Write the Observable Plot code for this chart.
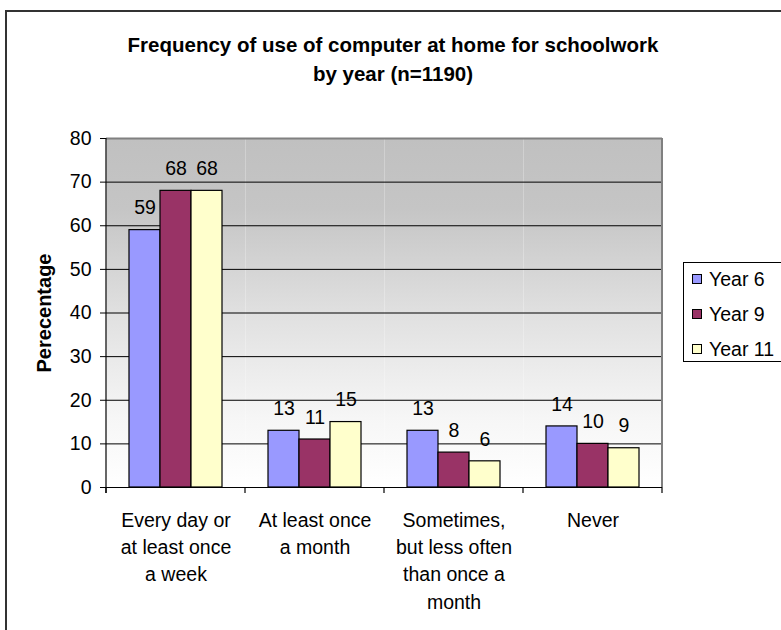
<!DOCTYPE html>
<html>
<head>
<meta charset="utf-8">
<script src="https://cdn.jsdelivr.net/npm/d3@7"></script>
<script src="https://cdn.jsdelivr.net/npm/@observablehq/plot@0.6"></script>
<style>
  html, body { margin: 0; padding: 0; background: #fff; }
  body { font-family: "Liberation Sans", Arial, sans-serif; color: #000; }
  #wrap { position: relative; width: 781px; height: 630px; overflow: hidden; }
  #border { position: absolute; left: 5px; top: 10px; width: 820px; height: 700px; border: 2px solid #333; box-sizing: border-box; }
  #title { position: absolute; left: 0; top: 30px; width: 786px; text-align: center; font-weight: bold; font-size: 20.5px; line-height: 29px; }
  #chart { position: absolute; left: 0; top: 0; }
  #legend { position: absolute; left: 683px; top: 262px; width: 130px; height: 100px; border: 1px solid #000; box-sizing: border-box; background: #fff; }
  .item { position: absolute; left: 0; height: 22px; font-size: 19.5px; line-height: 22px; white-space: nowrap; }
  .sw { position: absolute; left: 8px; top: 6px; width: 8px; height: 8px; border: 1px solid #000; }
  .lbl { position: absolute; left: 25px; top: 0; }
  g[aria-label="y-axis label"] text { font-weight: bold; font-size: 20px; }
</style>
</head>
<body>
<svg width="0" height="0" style="position:absolute">
  <defs>
    <linearGradient id="bg" x1="0" y1="0" x2="0" y2="1">
      <stop offset="0" stop-color="#c0c0c0"></stop>
      <stop offset="0.2" stop-color="#c5c5c5"></stop>
      <stop offset="0.5" stop-color="#e0e0e0"></stop>
      <stop offset="0.8" stop-color="#f6f6f6"></stop>
      <stop offset="1" stop-color="#ffffff"></stop>
    </linearGradient>
  </defs>
</svg>
<div id="wrap">
  <div id="border"></div>
  <div id="title">Frequency of use of computer at home for schoolwork<br>by year (n=1190)</div>
  <div id="chart"></div>
  <div id="legend"></div>
</div>
<script>
const categories = [
  "Every day or\nat least once\na week",
  "At least once\na month",
  "Sometimes,\nbut less often\nthan once a\nmonth",
  "Never"
];
const years = ["Year 6", "Year 9", "Year 11"];
const year6 = [59, 13, 13, 14];
const year9 = [68, 11, 8, 10];
const year11 = [68, 15, 6, 9];
const colors = ["#9999ff", "#993366", "#ffffcc"];
const yTicks = [0, 10, 20, 30, 40, 50, 60, 70, 80];
const yLabel = "Perecentage";

const series = [year6, year9, year11];
const data = categories.flatMap((c, i) =>
  series.map((s, j) => ({ category: c, year: years[j], value: s[i] }))
);

const chart = Plot.plot({
  width: 781,
  height: 630,
  marginLeft: 106,
  marginRight: 119,
  marginTop: 138,
  marginBottom: 143,
  style: { fontFamily: "Liberation Sans, Arial, sans-serif", fontSize: "19px", color: "#000", background: "transparent", overflow: "visible" },
  fx: { domain: categories, padding: 0, label: null },
  x: { domain: years, paddingInner: 0, paddingOuter: 0.74, axis: null },
  y: { domain: [0, 80], label: null },
  color: { domain: years, range: colors },
  marks: [
    Plot.frame({ fill: "url(#bg)", stroke: "none" }),
    Plot.gridY(yTicks.filter(t => t > 0 && t < 80), { stroke: "#000", strokeOpacity: 1, strokeWidth: 1 }),
    Plot.ruleY([80], { stroke: "#808080", strokeWidth: 2 }),
    Plot.barY(data, { fx: "category", x: "year", y: "value", fill: "year", stroke: "#000", strokeWidth: 1.2 }),
    Plot.text(data, { fx: "category", x: "year", y: "value", text: d => String(d.value), dy: -22, fontSize: 19.5, fill: "#000" }),
    Plot.ruleY([0], { stroke: "#000", strokeWidth: 1.2 }),
    Plot.axisY(yTicks, { tickSize: 6, tickPadding: 9, fontSize: 19.5, label: yLabel, labelAnchor: "center", labelOffset: 70, labelArrow: "none" }),
    Plot.axisFx({ anchor: "bottom", tickSize: 0, tickPadding: 20, fontSize: 19.5, lineHeight: 1.4, label: null })
  ]
});
document.getElementById("chart").appendChild(chart);

// decorative frame lines and category boundary ticks, placed with the plot's own scales
const svg = chart.tagName.toLowerCase() === "svg" ? chart : chart.querySelector("svg");
const fx = chart.scale("fx");
const ys = chart.scale("y");
const y0 = ys.apply(0), yTop = ys.apply(80);
const starts = fx.domain.map(d => fx.apply(d));
const bounds = [...starts, starts[starts.length - 1] + fx.bandwidth];
const g = d3.select(svg).append("g");
g.append("line").attr("x1", bounds[bounds.length - 1]).attr("x2", bounds[bounds.length - 1])
  .attr("y1", yTop).attr("y2", y0).attr("stroke", "#808080").attr("stroke-width", 2);
g.append("line").attr("x1", bounds[0]).attr("x2", bounds[0])
  .attr("y1", yTop).attr("y2", y0 + 6).attr("stroke", "#000").attr("stroke-width", 1.2);
g.selectAll("line.bt").data(bounds).join("line").attr("class", "bt")
  .attr("x1", d => d).attr("x2", d => d).attr("y1", y0).attr("y2", y0 + 6)
  .attr("stroke", "#000").attr("stroke-width", 1.2);

// legend
const legend = document.getElementById("legend");
const rowTops = [16 - 11, 51 - 11, 86 - 11];
years.forEach((y, i) => {
  const item = document.createElement("div");
  item.className = "item";
  item.style.top = rowTops[i] + "px";
  item.innerHTML = `<span class="sw" style="background:${colors[i]}"></span><span class="lbl">${y}</span>`;
  legend.appendChild(item);
});
</script>
</body>
</html>
